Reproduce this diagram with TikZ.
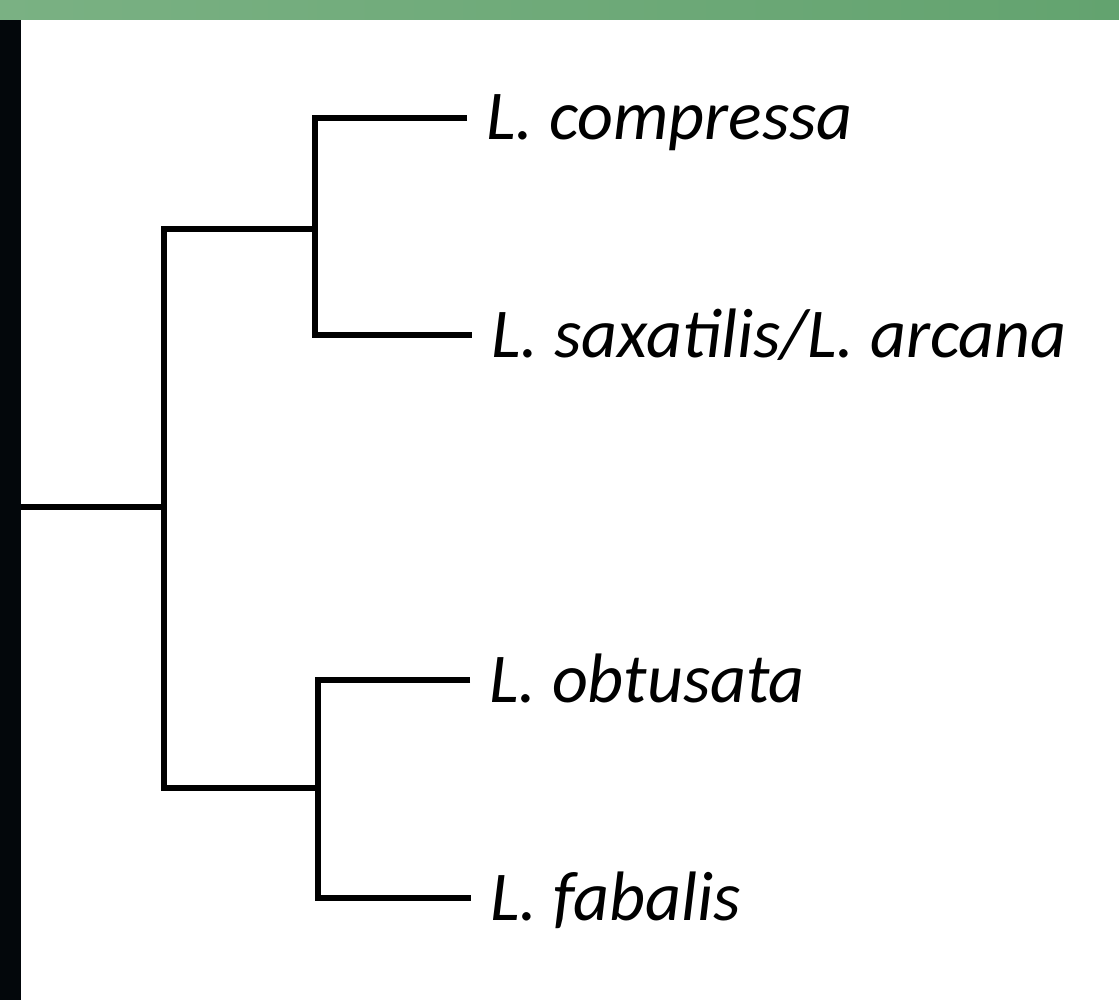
\documentclass[tikz,border=0pt]{standalone}
\usepackage{fontspec}
\setmainfont{Carlito}
\definecolor{barleft}{HTML}{7AB183}
\definecolor{barright}{HTML}{63A36F}
\definecolor{stripdark}{HTML}{03070B}
\begin{document}
\begin{tikzpicture}[x=1pt,y=-1pt,
  branch/.style={line width=5.5pt},
  leaf/.style={anchor=base west,inner xsep=19pt,inner ysep=0pt,
    font=\fontsize{70}{84}\selectfont\itshape}]
  \useasboundingbox (0,0) rectangle (1119,1000);
  \shade[left color=barleft,right color=barright] (0,0) rectangle (1119,20);
  \fill[stripdark] (0,20) rectangle (21,1000);

  % leaves: name / line end x / line y / label
  \foreach \name/\x/\y/\txt in {compressa/467/118/{L. compressa},
      saxatilis/472/335/{L. saxatilis/L. arcana},
      obtusata/470/680/{L. obtusata},
      fabalis/471/898/{L. fabalis}}
     \node [leaf] (\name) at (\x,\y+22) {\txt};

  \coordinate (root) at (21,507);
  \coordinate (n0) at (164,507);
  \coordinate (n1) at (315,229);
  \coordinate (n2) at (318,788);

  \draw[branch] (root) -- (n0);
  \draw[branch] (n1) -| (n0) |- (n2);
  \draw[branch] ([yshift=22pt]compressa.base west) -| (n1) |- ([yshift=22pt]saxatilis.base west);
  \draw[branch] ([yshift=22pt]obtusata.base west) -| (n2) |- ([yshift=22pt]fabalis.base west);
\end{tikzpicture}
\end{document}
